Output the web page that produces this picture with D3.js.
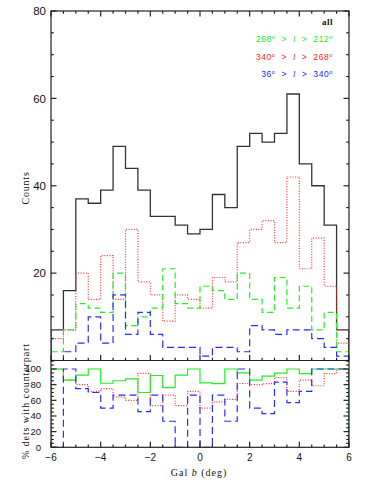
<!DOCTYPE html>
<html>
<head>
<meta charset="utf-8">
<script src="https://cdn.jsdelivr.net/npm/d3@7"></script>
<style>
  html, body { margin: 0; padding: 0; background: #fff; }
  svg { display: block; }
  text { font-family: "Liberation Sans", "DejaVu Sans", sans-serif; }
  .serif { font-family: "Liberation Serif", "DejaVu Serif", serif; }
</style>
</head>
<body>
<svg id="chart" width="374" height="498"></svg>
<script>
// bins of Galactic latitude, lower edges (deg), width 0.5
const binLo = [-6, -5.5, -5, -4.5, -4, -3.5, -3, -2.5, -2, -1.5, -1, -0.5,
               0, 0.5, 1, 1.5, 2, 2.5, 3, 3.5, 4, 4.5, 5, 5.5];
const binWidth = 0.5;

// counts per bin
const countsAll   = [7, 16, 37, 36, 39, 49, 44, 39, 33, 33, 31, 29, 30, 38, 35, 49, 52, 50, 52, 61, 45, 40, 31, 7];
const countsGreen = [2, 7, 13, 12, 11, 20, 8, 10, 12, 21, 13, 12, 17, 16, 14, 20, 14, 11, 19, 12, 17, 7, 11, 2];
const countsRed   = [5, 7, 20, 14, 24, 14, 30, 18, 15, 9, 15, 14, 12, 19, 18, 27, 30, 32, 27, 42, 21, 28, 17, 4];
const countsBlue  = [0, 2, 4, 10, 4, 15, 6, 11, 6, 3, 3, 3, 1, 3, 3, 2, 8, 7, 6, 7, 7, 5, 3, 1];

// % of detections with counterpart per bin
const pctGreen = [100, 85.7, 92.3, 100, 81.8, 85, 87.5, 70, 91.7, 76.2, 92.3, 100,
                  82.4, 81.3, 100, 95, 85.7, 90.9, 94.7, 100, 94.1, 100, 100, 100];
const pctRed   = [100, 85.7, 80, 71.4, 75, 64.3, 60, 94.4, 53.3, 66.7, 53.3, 71.4,
                  50, 57.9, 61.1, 81.5, 80, 81.3, 88.9, 71.4, 85.7, 78.6, 94.1, 100];
const pctBlue  = [0, 100, 75, 70, 50, 66.7, 66.7, 45.5, 66.7, 33.3, 0, 66.7,
                  0, 66.7, 33.3, 100, 50, 42.9, 83.3, 57.1, 71.4, 100, 100, 100];

const xTicksMajor = [-6, -4, -2, 0, 2, 4, 6];
const yTicksTop = [20, 40, 60, 80];
const yTicksBot = [0, 20, 40, 60, 80, 100];

const legend = [
  { lo: "268", hi: "212", color: "#11ee11" },
  { lo: "340", hi: "268", color: "#ff2020" },
  { lo: "36",  hi: "340", color: "#2020ff" },
];

const styles = {
  all:   { stroke: "#333", dash: null, width: 1.3 },
  green: { stroke: "#22ee22", dash: "6,3.5", width: 1.2 },
  red:   { stroke: "#ff3333", dash: "1,1.6", width: 1.2 },
  blue:  { stroke: "#2a2aff", dash: "7,4", width: 1.2 },
};

const L = 51, R = 349, T = 11, MID = 360.5, B = 447.3;
const svg = d3.select("#chart");

const x = d3.scaleLinear().domain([-6, 6]).range([L, R]);
const yTop = d3.scaleLinear().domain([0, 80]).range([MID, T]);
const yBot = d3.scaleLinear().domain([0, 100]).range([B, 369]);

svg.append("defs").call(d => {
  d.append("clipPath").attr("id", "clipTop").append("rect")
    .attr("x", L).attr("y", T).attr("width", R - L).attr("height", MID - T);
  d.append("clipPath").attr("id", "clipBot").append("rect")
    .attr("x", L).attr("y", MID).attr("width", R - L).attr("height", B - MID);
});

function stepPts(vals) {
  const pts = [[binLo[0], 0]];
  vals.forEach((v, i) => pts.push([binLo[i], v]));
  const last = binLo[binLo.length - 1] + binWidth;
  pts.push([last, vals[vals.length - 1]]);
  pts.push([last, 0]);
  return pts;
}

function drawHist(g, vals, yScale, st) {
  const line = d3.line().x(d => x(d[0])).y(d => yScale(d[1])).curve(d3.curveStepAfter);
  g.append("path")
    .attr("d", line(stepPts(vals)))
    .attr("fill", "none")
    .attr("stroke", st.stroke)
    .attr("stroke-width", st.width)
    .attr("stroke-dasharray", st.dash)
    .attr("stroke-linejoin", "miter");
}

// top panel histograms
const gTop = svg.append("g").attr("clip-path", "url(#clipTop)");
drawHist(gTop, countsAll, yTop, styles.all);
drawHist(gTop, countsRed, yTop, styles.red);
drawHist(gTop, countsGreen, yTop, styles.green);
drawHist(gTop, countsBlue, yTop, styles.blue);

// bottom panel percentages
const gBot = svg.append("g").attr("clip-path", "url(#clipBot)");
drawHist(gBot, pctRed, yBot, styles.red);
drawHist(gBot, pctGreen, yBot, { ...styles.green, dash: null });
drawHist(gBot, pctBlue, yBot, styles.blue);

// frames + ticks
const axisCol = "#222";
const gAx = svg.append("g").attr("stroke", axisCol).attr("stroke-width", 1.2).attr("fill", "none");
gAx.append("rect").attr("x", L).attr("y", T).attr("width", R - L).attr("height", B - T);
gAx.append("line").attr("x1", L).attr("x2", R).attr("y1", MID).attr("y2", MID);

const xMinor = d3.range(-6, 6.001, 0.5);
const majLen = 5.5, minLen = 2.8;
xMinor.forEach(v => {
  const isMaj = xTicksMajor.includes(v);
  const len = isMaj ? majLen : minLen;
  const px = x(v);
  gAx.append("line").attr("x1", px).attr("x2", px).attr("y1", T).attr("y2", T + len);
  gAx.append("line").attr("x1", px).attr("x2", px).attr("y1", MID).attr("y2", MID - len);
  gAx.append("line").attr("x1", px).attr("x2", px).attr("y1", B).attr("y2", B - len);
});

d3.range(0, 80.001, 5).forEach(v => {
  const len = v % 20 === 0 ? majLen : minLen;
  const py = yTop(v);
  gAx.append("line").attr("x1", L).attr("x2", L + len).attr("y1", py).attr("y2", py);
  gAx.append("line").attr("x1", R).attr("x2", R - len).attr("y1", py).attr("y2", py);
});
d3.range(0, 110.001, 5).forEach(v => {
  const len = v % 20 === 0 ? majLen : minLen;
  const py = yBot(v);
  if (py < MID) return;
  gAx.append("line").attr("x1", L).attr("x2", L + len).attr("y1", py).attr("y2", py);
  gAx.append("line").attr("x1", R).attr("x2", R - len).attr("y1", py).attr("y2", py);
});

// tick labels
svg.append("g").attr("fill", "#111").selectAll("text").data(yTicksTop).join("text")
  .attr("x", L - 5).attr("y", d => yTop(d)).attr("dy", "0.36em")
  .attr("text-anchor", "end").attr("font-size", 11.5)
  .text(d => d);
svg.append("g").attr("fill", "#111").selectAll("text").data(yTicksBot).join("text")
  .attr("x", L - 10).attr("y", d => yBot(d)).attr("dy", "0.36em")
  .attr("text-anchor", "end").attr("font-size", 9.5)
  .text(d => d);
svg.append("g").attr("fill", "#111").selectAll("text").data(xTicksMajor).join("text")
  .attr("x", d => x(d)).attr("y", 461)
  .attr("text-anchor", "middle").attr("font-size", 10)
  .text(d => d < 0 ? "\u2212" + Math.abs(d) : d);

// axis titles
const xt = svg.append("text").attr("class", "serif").attr("fill", "#111")
  .attr("x", 199).attr("y", 476).attr("text-anchor", "middle").attr("font-size", 10)
  .attr("letter-spacing", 1);
xt.append("tspan").text("Gal ");
xt.append("tspan").attr("font-style", "italic").text("b");
xt.append("tspan").text(" (deg)");

svg.append("text").attr("class", "serif").attr("fill", "#111")
  .attr("transform", "translate(29,188) rotate(-90)")
  .attr("text-anchor", "middle").attr("font-size", 10).attr("letter-spacing", 0.8)
  .text("Counts");
svg.append("text").attr("class", "serif").attr("fill", "#111")
  .attr("transform", "translate(29,401) rotate(-90)")
  .attr("text-anchor", "middle").attr("font-size", 10).attr("letter-spacing", 0.9)
  .text("% dets with counterpart");

// legend
const LX = 333;
svg.append("text").attr("class", "serif").attr("fill", "#111")
  .attr("x", LX).attr("y", 25).attr("text-anchor", "end")
  .attr("font-size", 9).attr("font-weight", "bold").attr("letter-spacing", 0.5)
  .text("all");
legend.forEach((d, i) => {
  const t = svg.append("text")
    .attr("x", LX).attr("y", 42 + i * 17.5).attr("text-anchor", "end")
    .attr("font-size", 8.5).attr("fill", d.color)
    .style("white-space", "pre").attr("letter-spacing", 0.6);
  t.append("tspan").text(d.lo);
  t.append("tspan").attr("font-size", 5.5).attr("dy", -3).text("o");
  t.append("tspan").attr("dy", 3).text("  >  ");
  t.append("tspan").attr("font-style", "italic").attr("class", "serif").text("l");
  t.append("tspan").text("  >  " + d.hi);
  t.append("tspan").attr("font-size", 5.5).attr("dy", -3).text("o");
});
</script>
</body>
</html>
